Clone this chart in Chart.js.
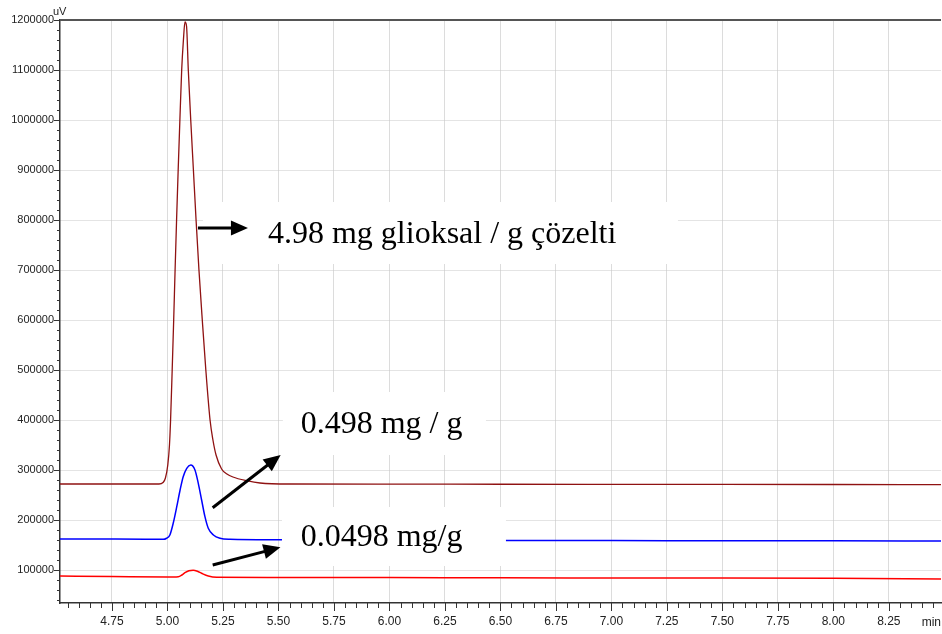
<!DOCTYPE html>
<html><head><meta charset="utf-8">
<script src="https://cdn.jsdelivr.net/npm/chart.js@4.4.1/dist/chart.umd.min.js"></script>
<style>html,body{margin:0;padding:0;background:#fff}#wrap{width:942px;height:634px}</style>
</head><body><div id="wrap"><canvas id="c" width="942" height="634"></canvas></div>
<script>
// ---- data (time in min, signal in uV) ----
const darkRedTimes  = [4.516, 4.75, 4.90, 4.962, 4.980, 4.991, 5.0016, 5.0092, 5.0142, 5.0214, 5.0282, 5.0345, 5.0412, 5.0484, 5.0561, 5.0642, 5.072, 5.079, 5.086, 5.094, 5.105, 5.117, 5.129, 5.142, 5.157, 5.173, 5.192, 5.205, 5.219, 5.244, 5.268, 5.295, 5.357, 5.417, 5.552, 6.0, 6.5, 7.0, 7.5, 8.0, 8.485];
const darkRedValues = [272000, 272000, 272000, 272000, 275000, 284000, 310000, 350000, 400000, 500000, 600000, 700000, 800000, 900000, 1000000, 1100000, 1160000, 1196000, 1188000, 1100000, 1000000, 900000, 800000, 700000, 600000, 500000, 400000, 360000, 330000, 302000, 292000, 286000, 278600, 274000, 272000, 271800, 271500, 271300, 271200, 271000, 270600];

const blueTimes  = [4.516, 4.75, 4.90, 4.981, 4.996, 5.011, 5.026, 5.042, 5.057, 5.071, 5.087, 5.105, 5.124, 5.139, 5.154, 5.169, 5.184, 5.207, 5.237, 5.282, 5.5, 6.0, 6.5, 7.0, 7.5, 8.0, 8.485];
const blueValues = [162000, 161800, 161600, 161400, 163500, 170000, 193400, 226600, 260000, 286600, 303400, 310000, 300000, 273400, 240000, 206600, 183400, 170000, 163400, 161400, 160500, 159500, 159000, 158800, 158500, 158300, 158000];

const redTimes  = [4.516, 4.75, 5.0, 5.049, 5.065, 5.079, 5.097, 5.116, 5.135, 5.154, 5.184, 5.222, 5.5, 6.0, 6.5, 7.0, 7.5, 8.0, 8.485];
const redValues = [88000, 87000, 86000, 86600, 90000, 94600, 98500, 99500, 97500, 93400, 88000, 85400, 85000, 84800, 84300, 84000, 83800, 83400, 82200];

const xTickValues = [4.75, 5.00, 5.25, 5.50, 5.75, 6.00, 6.25, 6.50, 6.75, 7.00, 7.25, 7.50, 7.75, 8.00, 8.25];
const xTickLabels = ['4.75','5.00','5.25','5.50','5.75','6.00','6.25','6.50','6.75','7.00','7.25','7.50','7.75','8.00','8.25'];
const yTickValues = [100000, 200000, 300000, 400000, 500000, 600000, 700000, 800000, 900000, 1000000, 1100000, 1200000];
const yTickLabels = ['100000','200000','300000','400000','500000','600000','700000','800000','900000','1000000','1100000','1200000'];

const annotationTexts = ['4.98 mg glioksal / g çözelti', '0.498 mg / g', '0.0498 mg/g'];

// ---- annotation layout (in data coordinates) ----
const annot = {
  boxes: [
    {x1: 5.160, x2: 7.300, y1: 836000, y2: 712000},
    {x1: 5.520, x2: 6.435, y1: 456000, y2: 330000},
    {x1: 5.516, x2: 6.525, y1: 226000, y2: 108000}
  ],
  texts: [
    {x: 5.4529, y: 754000},
    {x: 5.6002, y: 373400},
    {x: 5.6002, y: 148600}
  ],
  arrows: [
    {x1: 5.1376, y1: 784000, x2: 5.3628, y2: 784000},
    {x1: 5.2038, y1: 224600, x2: 5.5101, y2: 330000},
    {x1: 5.2038, y1: 110000, x2: 5.5092, y2: 145400}
  ]
};

function pts(t, v){ return t.map((x,i)=>({x:x, y:v[i]})); }

function drawArrow(ctx, x1, y1, x2, y2){
  const a = Math.atan2(y2-y1, x2-x1), hl = 17, hw = 7.5;
  const bx = x2 - hl*Math.cos(a), by = y2 - hl*Math.sin(a);
  ctx.lineWidth = 3; ctx.strokeStyle = '#000'; ctx.fillStyle = '#000';
  ctx.beginPath(); ctx.moveTo(x1,y1); ctx.lineTo(bx+Math.cos(a),by+Math.sin(a)); ctx.stroke();
  ctx.beginPath(); ctx.moveTo(x2,y2);
  ctx.lineTo(bx - hw*Math.sin(a), by + hw*Math.cos(a));
  ctx.lineTo(bx + hw*Math.sin(a), by - hw*Math.cos(a));
  ctx.closePath(); ctx.fill();
}

const overlay = {
  id: 'overlay',
  afterDatasetsDraw(chart){
    const ctx = chart.ctx, xs = chart.scales.x, ys = chart.scales.y;
    ctx.save();
    ctx.fillStyle = '#fff';
    annot.boxes.forEach(b=>{
      const x1 = xs.getPixelForValue(b.x1), x2 = xs.getPixelForValue(b.x2);
      const y1 = ys.getPixelForValue(b.y1), y2 = ys.getPixelForValue(b.y2);
      ctx.fillRect(x1, y1, x2-x1, y2-y1);
    });
    ctx.fillStyle = '#000';
    ctx.font = '32px "Liberation Serif", "Times New Roman", serif';
    ctx.textAlign = 'left'; ctx.textBaseline = 'alphabetic';
    annot.texts.forEach((t,i)=>{
      ctx.fillText(annotationTexts[i], xs.getPixelForValue(t.x), ys.getPixelForValue(t.y));
    });
    annot.arrows.forEach(a=>{
      drawArrow(ctx, xs.getPixelForValue(a.x1), ys.getPixelForValue(a.y1), xs.getPixelForValue(a.x2), ys.getPixelForValue(a.y2));
    });
    ctx.restore();
  },
  afterDraw(chart){
    const ctx = chart.ctx, xs = chart.scales.x, ys = chart.scales.y, ca = chart.chartArea;
    ctx.save();
    ctx.strokeStyle = '#333'; ctx.lineWidth = 1;
    for (let k = 91; k <= 169; k++){
      const v = k*0.05; const px = Math.round(xs.getPixelForValue(v)) + 0.5;
      if (px < ca.left || px > ca.right) continue;
      const major = (k % 5 === 0);
      ctx.beginPath(); ctx.moveTo(px, ca.bottom); ctx.lineTo(px, ca.bottom + (major ? 8 : 5)); ctx.stroke();
    }
    for (let k = 2; k <= 60; k++){
      const v = k*20000; const py = Math.round(ys.getPixelForValue(v)) + 0.5;
      if (py < ca.top - 1 || py > ca.bottom) continue;
      const major = (k % 5 === 0);
      ctx.beginPath(); ctx.moveTo(ca.left, py); ctx.lineTo(ca.left - (major ? 6 : 3), py); ctx.stroke();
    }
    ctx.strokeStyle = '#555'; ctx.lineWidth = 2;
    ctx.beginPath(); ctx.moveTo(ca.left, ca.top); ctx.lineTo(ca.right, ca.top); ctx.stroke();
    ctx.fillStyle = '#222';
    ctx.font = '11px "Liberation Sans", Arial, sans-serif';
    ctx.textAlign = 'left'; ctx.textBaseline = 'alphabetic';
    ctx.fillText('uV', ca.left - 7, 15);
    ctx.font = '12px "Liberation Sans", Arial, sans-serif';
    ctx.textAlign = 'right';
    ctx.fillText('min', 941, 626);
    ctx.restore();
  }
};

new Chart(document.getElementById('c'), {
  type: 'line',
  data: {
    datasets: [
      {label: '4.98 mg/g', data: pts(darkRedTimes, darkRedValues), borderColor: '#8f1212', borderWidth: 1.3, pointRadius: 0, cubicInterpolationMode: 'monotone', fill: false},
      {label: '0.498 mg/g', data: pts(blueTimes, blueValues), borderColor: '#0000ff', borderWidth: 1.5, pointRadius: 0, cubicInterpolationMode: 'monotone', fill: false},
      {label: '0.0498 mg/g', data: pts(redTimes, redValues), borderColor: '#ff0000', borderWidth: 1.5, pointRadius: 0, cubicInterpolationMode: 'monotone', fill: false}
    ]
  },
  options: {
    responsive: false, animation: false, parsing: true,
    layout: {padding: {left: 0, right: 1, top: 20, bottom: 0}},
    plugins: {legend: {display: false}, tooltip: {enabled: false}},
    scales: {
      x: {
        type: 'linear', min: 4.516, max: 8.485,
        afterBuildTicks: s => { s.ticks = xTickValues.map(v => ({value: v})); },
        afterFit: s => { s.height = 31; },
        ticks: {font: {family: '"Liberation Sans", Arial, sans-serif', size: 12}, color: '#222', padding: 11, maxRotation: 0, autoSkip: false,
                callback: (v, i) => xTickLabels[i]},
        grid: {color: '#dcdcdc', lineWidth: 1, drawTicks: false},
        border: {display: true, color: '#333', width: 1.5}
      },
      y: {
        type: 'linear', min: 34000, max: 1200000,
        afterBuildTicks: s => { s.ticks = yTickValues.map(v => ({value: v})); },
        afterFit: s => { s.width = 60; },
        ticks: {font: {family: '"Liberation Sans", Arial, sans-serif', size: 11}, color: '#222', padding: 6, autoSkip: false,
                callback: (v, i) => yTickLabels[i]},
        grid: {color: '#c8c8c8', lineWidth: 1, drawTicks: false},
        border: {display: true, color: '#333', width: 1.5, dash: [1, 1]}
      }
    }
  },
  plugins: [overlay]
});
</script>
</body></html>
